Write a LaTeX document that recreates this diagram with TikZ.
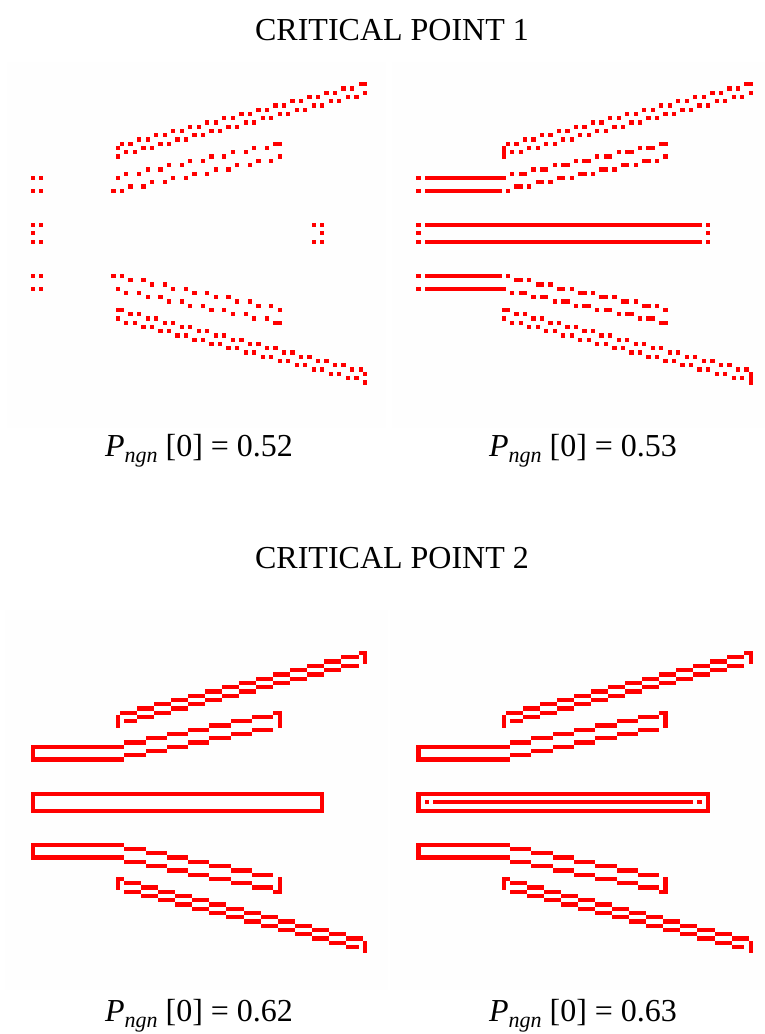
\documentclass[tikz,border=0pt]{standalone}
\usepackage{fontspec}
\setmainfont{Liberation Serif}
\definecolor{px}{RGB}{255,0,0}
\definecolor{bgc}{RGB}{254,254,254}
\newcommand\PX{0}
\newcommand\PY{0}
\newcommand\CS{4.26}
\newcommand\hrun[3]{\fill[px] ({\PX+(#1)*\CS},{\PY-((#3)+0.5)*\CS}) rectangle ({\PX+((#2)+1)*\CS},{\PY-((#3)-0.5)*\CS});}
\newcommand\vrun[3]{\fill[px] ({\PX+(#1)*\CS},{\PY-((#3)+0.5)*\CS}) rectangle ({\PX+((#1)+1)*\CS},{\PY-((#2)-0.5)*\CS});}
\newcommand\cel[2]{\hrun{#1}{#1}{#2}}
% full (bottom) panel
\newcommand\fullpanel{%
 \hrun{0}{68}{2}\hrun{0}{68}{-2}\vrun{0}{-1}{1}\vrun{68}{-1}{1}%
 \hrun{0}{21}{13}\hrun{0}{21}{10}\vrun{0}{11}{12}%
 \hrun{0}{21}{-10}\hrun{0}{21}{-13}\vrun{0}{-12}{-11}%
 \foreach \k in {0,...,6}{\hrun{22+5*\k}{26+5*\k}{14+\k}\hrun{22+5*\k}{26+5*\k}{11+\k}\hrun{22+5*\k}{26+5*\k}{-11-\k}\hrun{22+5*\k}{26+5*\k}{-14-\k}}%
 \cel{57}{21}\vrun{58}{18}{21}\cel{57}{-21}\vrun{58}{-21}{-18}%
 \foreach \k in {0,...,13}{\hrun{21+4*\k}{24+4*\k}{21+\k}\hrun{22+4*\k}{25+4*\k}{-19-\k}}%
 \foreach \k in {1,...,13}{\hrun{21+4*\k}{24+4*\k}{19+\k}}\hrun{22}{24}{19}%
 \foreach \k in {0,...,12}{\hrun{22+4*\k}{25+4*\k}{-21-\k}}\hrun{74}{76}{-34}%
 \vrun{20}{18}{20}\cel{77}{35}\vrun{78}{33}{35}%
 \cel{21}{-18}\vrun{20}{-20}{-18}\vrun{78}{-35}{-33}%
}
% outer bands, sparse
\newcommand\outerdots{%
 \foreach \k in {0,...,13}{\cel{21+4*\k}{21+\k}\cel{23+4*\k}{21+\k}\cel{22+4*\k}{19+\k}\cel{24+4*\k}{19+\k}\cel{23+4*\k}{-19-\k}\cel{25+4*\k}{-19-\k}\cel{22+4*\k}{-21-\k}\cel{24+4*\k}{-21-\k}}%
 \cel{77}{35}\cel{78}{35}\cel{78}{33}\cel{20}{-18}\cel{21}{-18}\cel{20}{-20}%
 \cel{57}{21}\cel{58}{21}\cel{58}{18}\cel{57}{-21}\cel{58}{-21}\cel{58}{-18}%
}
\newcommand\lbl[1]{\textit{P}\raisebox{-6pt}{\fontsize{22}{24}\selectfont\textit{ngn}}\ [0] = #1}
\begin{document}
\begin{tikzpicture}[x=1pt,y=-1pt]
\useasboundingbox (0,0) rectangle (765,1034);
\fill[white] (0,0) rectangle (765,1034);
\fill[bgc] (7,62) rectangle (386,428);
\fill[bgc] (392,62) rectangle (765,428);
\fill[bgc] (5,610) rectangle (388,990);
\fill[bgc] (390,610) rectangle (765,990);
% ---- top-left: P=0.52
\renewcommand\PX{30.5}\renewcommand\PY{233.3}
\foreach \ca/\ra in {0/13,2/13,20/13,0/10,2/10,19/10,21/10,0/-13,2/-13,20/-13,0/-10,2/-10,19/-10,21/-10,0/2,2/2,0/0,0/-2,2/-2,66/2,68/2,68/0,66/-2,68/-2}{\cel{\ca}{\ra}}
\foreach \k in {0,...,6}{\cel{23+5*\k}{11+\k}\cel{26+5*\k}{11+\k}\cel{22+5*\k}{14+\k}\cel{25+5*\k}{14+\k}\cel{23+5*\k}{-11-\k}\cel{26+5*\k}{-11-\k}\cel{22+5*\k}{-14-\k}\cel{25+5*\k}{-14-\k}}
\outerdots
\cel{20}{18}\cel{20}{20}\cel{78}{-33}\cel{78}{-35}
% ---- top-right: P=0.53
\renewcommand\PX{416.3}\renewcommand\PY{233.3}
\cel{0}{13}\hrun{2}{20}{13}\cel{0}{10}\hrun{2}{19}{10}\cel{21}{10}
\cel{0}{-13}\hrun{2}{20}{-13}\cel{0}{-10}\hrun{2}{19}{-10}\cel{21}{-10}
\cel{0}{2}\hrun{2}{66}{2}\cel{68}{2}\cel{0}{0}\cel{68}{0}\cel{0}{-2}\hrun{2}{66}{-2}\cel{68}{-2}
\foreach \k in {0,...,6}{\hrun{23+5*\k}{24+5*\k}{11+\k}\cel{26+5*\k}{11+\k}\cel{22+5*\k}{14+\k}\hrun{24+5*\k}{25+5*\k}{14+\k}\hrun{23+5*\k}{24+5*\k}{-11-\k}\cel{26+5*\k}{-11-\k}\cel{22+5*\k}{-14-\k}\hrun{24+5*\k}{25+5*\k}{-14-\k}}
\outerdots
\vrun{20}{18}{20}\vrun{78}{-35}{-33}
% ---- bottom-left: P=0.62
\renewcommand\PX{30.5}\renewcommand\PY{802.2}
\fullpanel
% ---- bottom-right: P=0.63
\renewcommand\PX{416.3}\renewcommand\PY{802.2}
\fullpanel
\hrun{4}{64}{0}\cel{2}{0}\cel{66}{0}
% ---- texts
\begin{scope}[every node/.style={anchor=base,inner sep=0pt,font=\fontsize{32}{38}\selectfont}]
\node (t1) at (392,40) {CRITICAL POINT 1};
\node (l1) at (199,456) {\lbl{0.52}};
\node (l2) at (583,456) {\lbl{0.53}};
\node (t2) at (392,568) {CRITICAL POINT 2};
\node (l3) at (199,1021) {\lbl{0.62}};
\node (l4) at (583,1021) {\lbl{0.63}};
\end{scope}
\end{tikzpicture}
\end{document}
